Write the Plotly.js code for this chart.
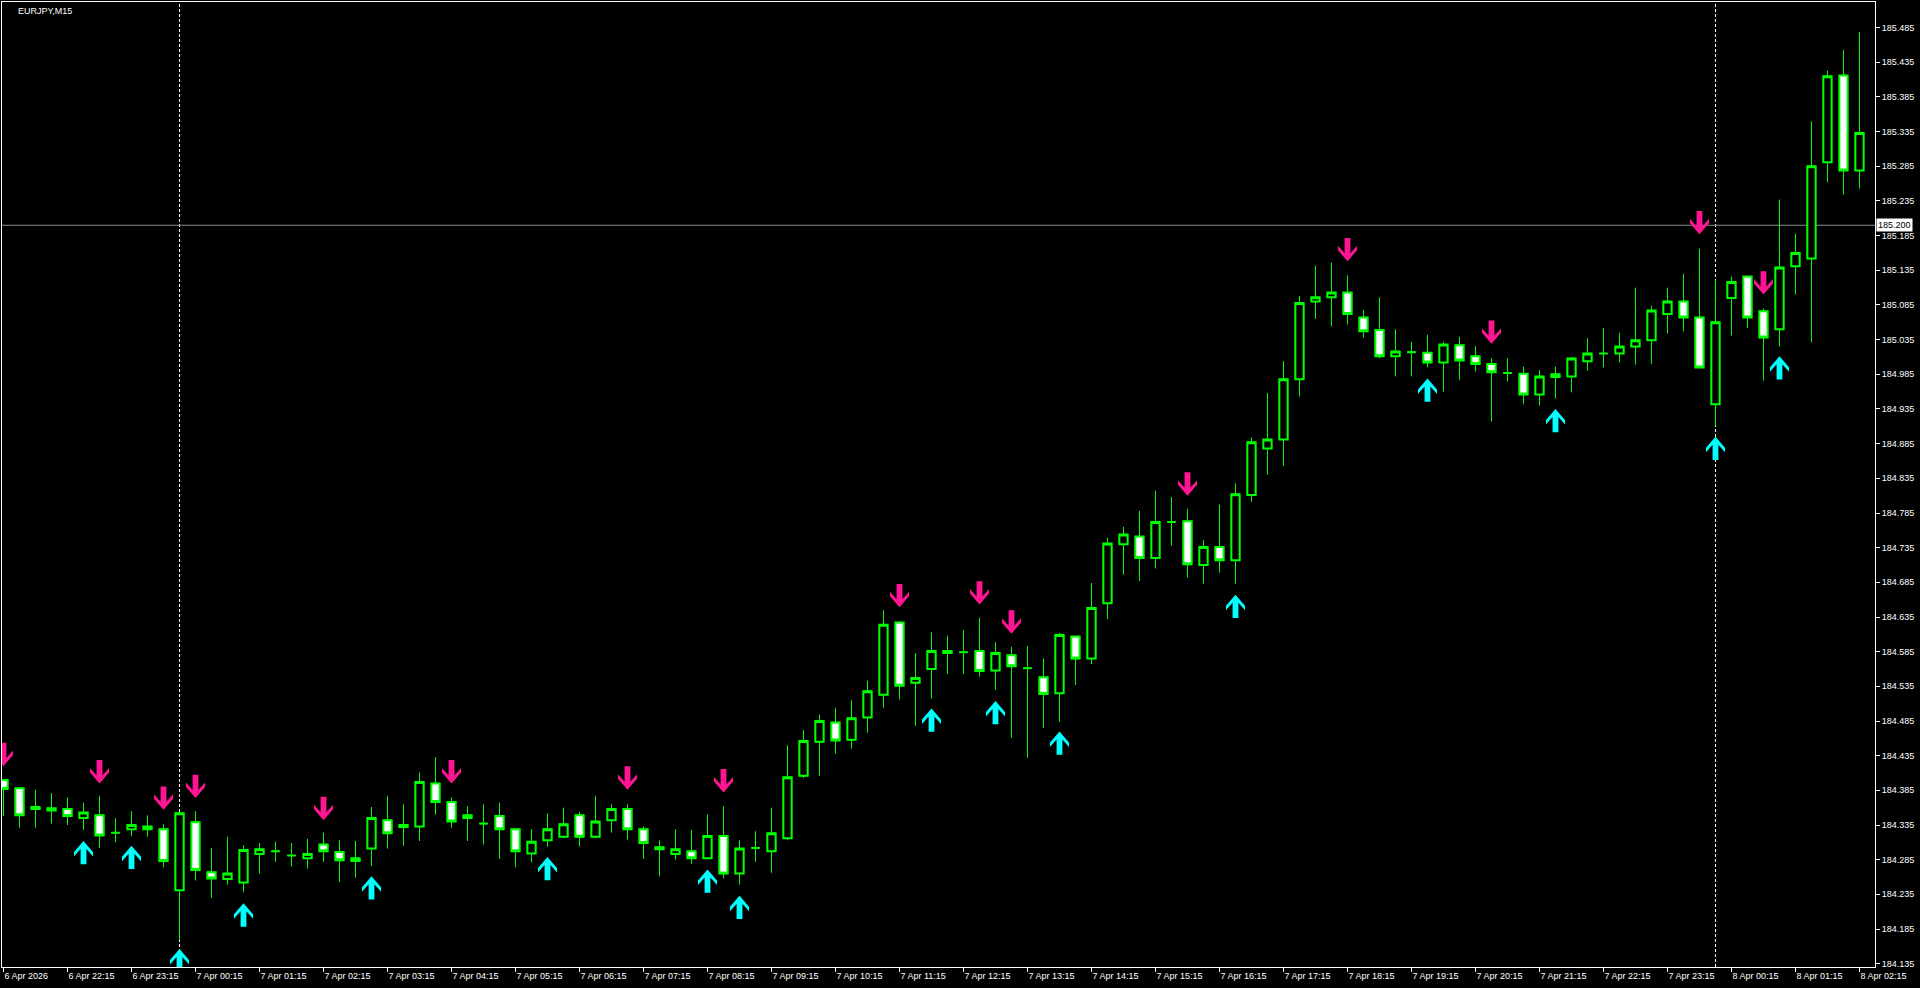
<!DOCTYPE html>
<html><head><meta charset="utf-8">
<script src="https://cdn.plot.ly/plotly-3.0.1.min.js"></script>
<style>html,body{margin:0;padding:0;background:#000;overflow:hidden}#chart{width:1920px;height:988px}</style>
</head><body><div id="chart"></div>
<script>
const symbolTitle = "EURJPY,M15";
const times = [
"2026-04-06 21:15","2026-04-06 21:30","2026-04-06 21:45","2026-04-06 22:00","2026-04-06 22:15","2026-04-06 22:30","2026-04-06 22:45","2026-04-06 23:00","2026-04-06 23:15","2026-04-06 23:30","2026-04-06 23:45",
"2026-04-07 00:00","2026-04-07 00:15","2026-04-07 00:30","2026-04-07 00:45","2026-04-07 01:00","2026-04-07 01:15","2026-04-07 01:30","2026-04-07 01:45",
"2026-04-07 02:00","2026-04-07 02:15","2026-04-07 02:30","2026-04-07 02:45","2026-04-07 03:00","2026-04-07 03:15","2026-04-07 03:30","2026-04-07 03:45",
"2026-04-07 04:00","2026-04-07 04:15","2026-04-07 04:30","2026-04-07 04:45","2026-04-07 05:00","2026-04-07 05:15","2026-04-07 05:30","2026-04-07 05:45",
"2026-04-07 06:00","2026-04-07 06:15","2026-04-07 06:30","2026-04-07 06:45","2026-04-07 07:00","2026-04-07 07:15","2026-04-07 07:30","2026-04-07 07:45",
"2026-04-07 08:00","2026-04-07 08:15","2026-04-07 08:30","2026-04-07 08:45","2026-04-07 09:00","2026-04-07 09:15","2026-04-07 09:30","2026-04-07 09:45",
"2026-04-07 10:00","2026-04-07 10:15","2026-04-07 10:30","2026-04-07 10:45","2026-04-07 11:00","2026-04-07 11:15","2026-04-07 11:30","2026-04-07 11:45",
"2026-04-07 12:00","2026-04-07 12:15","2026-04-07 12:30","2026-04-07 12:45","2026-04-07 13:00","2026-04-07 13:15","2026-04-07 13:30","2026-04-07 13:45",
"2026-04-07 14:00","2026-04-07 14:15","2026-04-07 14:30","2026-04-07 14:45","2026-04-07 15:00","2026-04-07 15:15","2026-04-07 15:30","2026-04-07 15:45",
"2026-04-07 16:00","2026-04-07 16:15","2026-04-07 16:30","2026-04-07 16:45","2026-04-07 17:00","2026-04-07 17:15","2026-04-07 17:30","2026-04-07 17:45",
"2026-04-07 18:00","2026-04-07 18:15","2026-04-07 18:30","2026-04-07 18:45","2026-04-07 19:00","2026-04-07 19:15","2026-04-07 19:30","2026-04-07 19:45",
"2026-04-07 20:00","2026-04-07 20:15","2026-04-07 20:30","2026-04-07 20:45","2026-04-07 21:00","2026-04-07 21:15","2026-04-07 21:30","2026-04-07 21:45",
"2026-04-07 22:00","2026-04-07 22:15","2026-04-07 22:30","2026-04-07 22:45","2026-04-07 23:00","2026-04-07 23:15","2026-04-07 23:30","2026-04-07 23:45",
"2026-04-08 00:00","2026-04-08 00:15","2026-04-08 00:30","2026-04-08 00:45","2026-04-08 01:00","2026-04-08 01:15","2026-04-08 01:30","2026-04-08 01:45",
"2026-04-08 02:00","2026-04-08 02:15"
];
const open = [
184.400,184.388,184.361,184.359,184.358,184.345,184.349,184.324,184.329,184.333,
184.329,184.241,184.339,184.267,184.257,184.252,184.293,184.297,184.291,184.287,
184.307,184.296,184.283,184.301,184.342,184.335,184.333,184.395,184.368,184.349,
184.337,184.348,184.329,184.294,184.313,184.318,184.349,184.318,184.342,184.358,
184.329,184.303,184.293,184.297,184.287,184.319,184.265,184.302,184.297,184.316,
184.406,184.455,184.483,184.458,184.490,184.523,184.627,184.540,184.560,184.586,
184.584,184.586,184.558,184.580,184.561,184.548,184.525,184.607,184.575,184.655,
184.740,184.751,184.720,184.772,184.773,184.710,184.736,184.717,184.811,184.878,
184.891,184.978,185.090,185.096,185.103,185.067,185.049,185.011,185.017,185.016,
185.002,185.027,185.011,185.000,184.987,184.986,184.956,184.981,184.982,185.004,
185.015,185.015,185.025,185.034,185.072,185.090,185.067,184.942,185.095,185.126,
185.076,185.050,185.141,185.152,185.291,185.416,185.279
];
const high = [
184.401,184.389,184.386,184.381,184.375,184.367,184.377,184.345,184.355,184.349,
184.336,184.353,184.355,184.302,184.318,184.306,184.309,184.311,184.309,184.315,
184.324,184.313,184.312,184.361,184.377,184.365,184.411,184.433,184.375,184.362,
184.365,184.367,184.329,184.329,184.352,184.360,184.354,184.377,184.365,184.365,
184.333,184.313,184.329,184.328,184.350,184.362,184.313,184.326,184.360,184.450,
184.472,184.494,184.504,184.515,184.543,184.645,184.629,184.583,184.613,184.608,
184.616,184.634,184.599,184.592,184.593,184.575,184.612,184.607,184.684,184.749,
184.765,184.788,184.817,184.808,184.791,184.746,184.797,184.828,184.894,184.958,
185.004,185.098,185.142,185.146,185.128,185.078,185.096,185.050,185.032,185.042,
185.032,185.039,185.026,185.008,185.008,184.996,184.991,184.996,185.010,185.037,
185.052,185.045,185.110,185.084,185.110,185.130,185.166,185.121,185.126,185.127,
185.080,185.237,185.188,185.350,185.423,185.453,185.479
];
const low = [
184.348,184.331,184.331,184.337,184.335,184.328,184.302,184.310,184.319,184.318,
184.274,184.169,184.255,184.230,184.249,184.238,184.265,184.282,184.275,184.272,
184.282,184.253,184.259,184.276,184.301,184.305,184.312,184.350,184.331,184.312,
184.307,184.286,184.274,184.281,184.304,184.317,184.304,184.317,184.324,184.314,
184.286,184.261,184.285,184.279,184.286,184.258,184.249,184.282,184.266,184.313,
184.403,184.406,184.438,184.445,184.468,184.504,184.516,184.478,184.517,184.553,
184.553,184.549,184.530,184.461,184.432,184.475,184.484,184.537,184.567,184.632,
184.696,184.687,184.705,184.738,184.692,184.683,184.699,184.683,184.801,184.840,
184.853,184.953,185.065,185.054,185.057,185.038,185.008,184.982,184.982,184.995,
184.960,184.977,184.989,184.917,184.975,184.942,184.940,184.950,184.959,184.990,
184.995,185.002,184.999,185.000,185.044,185.047,184.995,184.911,185.041,185.052,
184.976,185.025,185.100,185.031,185.262,185.244,185.253
];
const close = [
184.387,184.349,184.358,184.356,184.348,184.353,184.320,184.324,184.335,184.329,
184.283,184.352,184.270,184.258,184.265,184.299,184.300,184.297,184.291,184.293,
184.297,184.284,184.287,184.345,184.323,184.332,184.397,184.368,184.340,184.345,
184.337,184.329,184.297,184.311,184.329,184.336,184.318,184.340,184.358,184.329,
184.309,184.300,184.300,184.287,184.319,184.265,184.301,184.302,184.323,184.404,
184.456,184.485,184.457,184.489,184.528,184.624,184.536,184.547,184.586,184.583,
184.584,184.557,184.583,184.564,184.561,184.524,184.609,184.575,184.648,184.741,
184.754,184.720,184.772,184.772,184.711,184.736,184.717,184.812,184.887,184.891,
184.978,185.088,185.096,185.103,185.072,185.047,185.011,185.018,185.017,185.002,
185.028,185.005,185.000,184.988,184.987,184.956,184.982,184.985,185.008,185.015,
185.015,185.025,185.034,185.077,185.090,185.067,184.995,185.060,185.118,185.067,
185.038,185.139,185.160,185.285,185.415,185.279,185.333
];
const tickTimes = [
"2026-04-06 21:15","2026-04-06 22:15","2026-04-06 23:15","2026-04-07 00:15","2026-04-07 01:15","2026-04-07 02:15",
"2026-04-07 03:15","2026-04-07 04:15","2026-04-07 05:15","2026-04-07 06:15","2026-04-07 07:15","2026-04-07 08:15",
"2026-04-07 09:15","2026-04-07 10:15","2026-04-07 11:15","2026-04-07 12:15","2026-04-07 13:15","2026-04-07 14:15",
"2026-04-07 15:15","2026-04-07 16:15","2026-04-07 17:15","2026-04-07 18:15","2026-04-07 19:15","2026-04-07 20:15",
"2026-04-07 21:15","2026-04-07 22:15","2026-04-07 23:15","2026-04-08 00:15","2026-04-08 01:15","2026-04-08 02:15"
];
const tickLabels = [
"6 Apr 2026","6 Apr 22:15","6 Apr 23:15","7 Apr 00:15","7 Apr 01:15","7 Apr 02:15",
"7 Apr 03:15","7 Apr 04:15","7 Apr 05:15","7 Apr 06:15","7 Apr 07:15","7 Apr 08:15",
"7 Apr 09:15","7 Apr 10:15","7 Apr 11:15","7 Apr 12:15","7 Apr 13:15","7 Apr 14:15",
"7 Apr 15:15","7 Apr 16:15","7 Apr 17:15","7 Apr 18:15","7 Apr 19:15","7 Apr 20:15",
"7 Apr 21:15","7 Apr 22:15","7 Apr 23:15","8 Apr 00:15","8 Apr 01:15","8 Apr 02:15"
];
const sellBars = [0,6,10,12,20,28,39,45,56,61,63,74,84,93,106,110];
const sellPrices = [184.420,184.395,184.357,184.374,184.342,184.395,184.386,184.382,184.649,184.653,184.611,184.810,185.148,185.029,185.187,185.100];
const buyBars = [5,8,11,15,23,34,44,46,58,62,66,77,89,97,107,111];
const buyPrices = [184.312,184.305,184.156,184.222,184.261,184.289,184.271,184.233,184.503,184.514,184.470,184.667,184.979,184.935,184.895,185.011];
const separatorTimes = ["2026-04-07 00:00","2026-04-08 00:00"];
const markLevel = 185.200;

const GREEN = '#00ff00';
const FONT = 'Liberation Sans, Arial, sans-serif';
const bodyHigh = open.map((o, i) => Math.max(o, close[i]));
const bodyLow = open.map((o, i) => Math.min(o, close[i]));

const wicks = {
  type: 'candlestick', x: times, open: open, high: high, low: low, close: close,
  increasing: {line: {color: GREEN, width: 1}, fillcolor: '#000000'},
  decreasing: {line: {color: GREEN, width: 1}, fillcolor: '#ffffff'},
  whiskerwidth: 0, hoverinfo: 'skip', showlegend: false
};
const bodies = {
  type: 'candlestick', x: times, open: open, high: bodyHigh, low: bodyLow, close: close,
  increasing: {line: {color: GREEN, width: 2}, fillcolor: '#000000'},
  decreasing: {line: {color: GREEN, width: 2}, fillcolor: '#ffffff'},
  whiskerwidth: 0, hoverinfo: 'skip', showlegend: false
};

const downPath = 'M0,0 L-9.5,11 L-9.5,15.5 L-2.9,8 L-2.9,23.3 L2.9,23.3 L2.9,8 L9.5,15.5 L9.5,11 Z';
const upPath = 'M0,0 L-9.5,-11 L-9.5,-15.5 L-2.9,-8 L-2.9,-23.3 L2.9,-23.3 L2.9,-8 L9.5,-15.5 L9.5,-11 Z';

const shapes = [];
separatorTimes.forEach(t => shapes.push({
  type: 'line', xref: 'x', yref: 'paper', x0: t, x1: t, y0: 0, y1: 1,
  line: {color: '#ffffff', width: 1, dash: '3px,2px'}, layer: 'below'
}));
shapes.push({
  type: 'line', xref: 'paper', yref: 'y', x0: 0, x1: 1, y0: markLevel, y1: markLevel,
  line: {color: '#8c8c96', width: 1}, layer: 'below'
});
sellBars.forEach((b, i) => shapes.push({
  type: 'path', xref: 'x', yref: 'y', xsizemode: 'pixel', ysizemode: 'pixel',
  xanchor: times[b], yanchor: sellPrices[i], path: downPath,
  fillcolor: '#ff1493', line: {width: 0}, layer: 'above'
}));
buyBars.forEach((b, i) => shapes.push({
  type: 'path', xref: 'x', yref: 'y', xsizemode: 'pixel', ysizemode: 'pixel',
  xanchor: times[b], yanchor: buyPrices[i], path: upPath,
  fillcolor: '#00ffff', line: {width: 0}, layer: 'above'
}));

const layout = {
  width: 1920, height: 988,
  paper_bgcolor: '#000000', plot_bgcolor: '#000000',
  margin: {l: 2, r: 45, t: 2, b: 21, pad: 0},
  showlegend: false, hovermode: false,
  boxgap: 0.26, boxgroupgap: 0.3,
  title: {text: symbolTitle, font: {family: FONT, size: 9, color: '#ffffff'},
          xref: 'container', yref: 'container', x: 18 / 1920, xanchor: 'left', y: 1 - 10.7 / 988, yanchor: 'middle'},
  xaxis: {
    type: 'date', range: ['2026-04-06 21:13:35', '2026-04-08 02:29:33'],
    rangeslider: {visible: false}, showgrid: false, zeroline: false,
    tickmode: 'array', tickvals: tickTimes, ticktext: tickLabels,
    ticks: 'outside', ticklen: 4, tickwidth: 1, tickcolor: '#ffffff',
    ticklabelposition: 'outside right',
    tickfont: {family: FONT, size: 9, color: '#ffffff'},
    showline: true, linecolor: '#ffffff', linewidth: 1, mirror: true, automargin: false
  },
  yaxis: {
    side: 'right', range: [184.1302, 185.522], showgrid: false, zeroline: false,
    tick0: 184.135, dtick: 0.05, tickformat: '.3f',
    ticks: 'outside', ticklen: 4, tickwidth: 1, tickcolor: '#ffffff',
    tickfont: {family: FONT, size: 9, color: '#ffffff'},
    showline: true, linecolor: '#ffffff', linewidth: 1, mirror: true, automargin: false
  },
  shapes: shapes,
  annotations: [{
    xref: 'paper', yref: 'y', x: 1, y: markLevel, xanchor: 'left', yanchor: 'middle', xshift: 1,
    text: markLevel.toFixed(3), showarrow: false, bgcolor: '#ffffff', borderpad: 1,
    font: {family: FONT, size: 9, color: '#000000'}
  }]
};

Plotly.newPlot('chart', [wicks, bodies], layout, {displayModeBar: false, staticPlot: true});
</script>
</body></html>
